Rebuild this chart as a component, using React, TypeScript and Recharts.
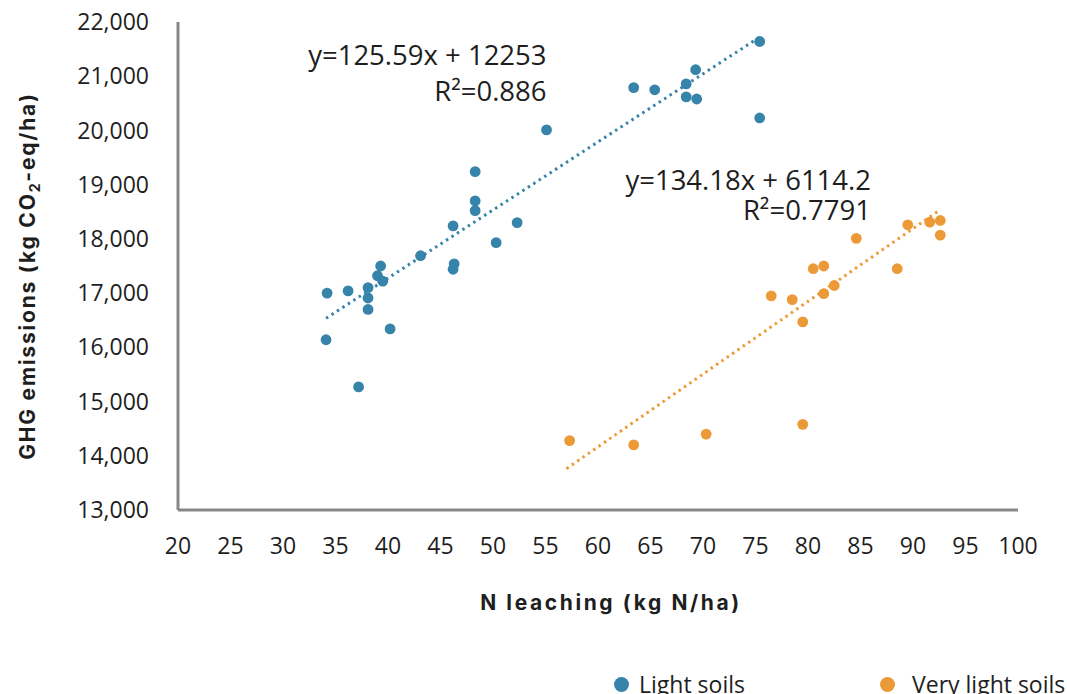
import React from "react";
import {
  ScatterChart,
  Scatter,
  XAxis,
  YAxis,
  ReferenceDot,
  Label,
} from "recharts";

// ---------- data ----------
const lightX = [75.4, 69.3, 63.4, 65.4, 68.4, 68.4, 69.4, 75.4, 55.1, 48.3, 48.3, 48.3, 46.2, 52.3, 50.3, 43.1, 39.3, 39.0, 39.5, 46.3, 46.2, 34.2, 36.2, 38.1, 38.1, 38.1, 40.2, 34.1, 37.2];
const lightY = [21640, 21120, 20790, 20750, 20860, 20620, 20580, 20230, 20010, 19240, 18700, 18520, 18240, 18300, 17930, 17690, 17500, 17320, 17220, 17540, 17440, 17000, 17040, 17100, 16910, 16700, 16340, 16140, 15270];

const veryLightX = [57.3, 63.4, 70.3, 79.5, 76.5, 78.5, 79.5, 80.5, 81.5, 81.5, 82.5, 84.6, 88.5, 89.5, 91.6, 92.6, 92.6];
const veryLightY = [14280, 14200, 14400, 14580, 16950, 16880, 16470, 17450, 17500, 16990, 17140, 18010, 17450, 18260, 18310, 18340, 18070];

// trendline end points
const lightTrendX = [34.1, 75.4];
const lightTrendY = [16536, 21722];
const veryLightTrendX = [57.0, 92.6];
const veryLightTrendY = [13762, 18539];

const seriesNames = ["Light soils", "Very light soils"];
const lightEquation = ["y=125.59x + 12253", "R\u00B2=0.886"];
const veryLightEquation = ["y=134.18x + 6114.2", "R\u00B2=0.7791"];
const lightEqAnchor = { x: 55.1, y: 21210 };
const veryLightEqAnchor = { x: 86.0, y: 18900 };

const xTicks = [20, 25, 30, 35, 40, 45, 50, 55, 60, 65, 70, 75, 80, 85, 90, 95, 100];
const yTicks = [13000, 14000, 15000, 16000, 17000, 18000, 19000, 20000, 21000, 22000];

const xTitle = "N leaching (kg N/ha)";
const yTitleParts = ["GHG emissions (kg CO", "2", "-eq/ha)"];

// ---------- styles ----------
const BLUE = "#3784aa";
const ORANGE = "#ec9a38";
const AXIS = "#878787";
const TEXT = "#1e1e1e";
const FONT = "'Open Sans', sans-serif";
const TITLE_FONT = "Inter, 'Open Sans', sans-serif";

const zip = (xs: number[], ys: number[]) => xs.map((x, i) => ({ x, y: ys[i] }));
const lightData = zip(lightX, lightY);
const veryLightData = zip(veryLightX, veryLightY);
const lightTrend = zip(lightTrendX, lightTrendY);
const veryLightTrend = zip(veryLightTrendX, veryLightTrendY);

const fmt = (v: number) => v.toLocaleString("en-US");

const Dot = (color: string) => (props: any) => {
  const { cx, cy } = props;
  if (cx == null || cy == null) return <g />;
  return <circle cx={cx} cy={cy} r={5.4} fill={color} />;
};

const NoShape = () => <g />;

const EqLabel = (lines: string[], dy: number) => (props: any) => {
  const vb = props.viewBox || {};
  const x = vb.x + (vb.width || 0) / 2;
  const y = vb.y + (vb.height || 0) / 2;
  return (
    <text x={x} y={y} textAnchor="end" fontFamily={FONT} fontSize={27.5} fill={TEXT}>
      <tspan x={x} y={y}>{lines[0]}</tspan>
      <tspan x={x} y={y + dy}>{lines[1]}</tspan>
    </text>
  );
};

const XTitle = (props: any) => {
  const vb = props.viewBox || {};
  return (
    <text
      x={vb.x + vb.width / 2 + 13}
      y={vb.y + 100}
      textAnchor="middle"
      fontFamily={TITLE_FONT}
      fontWeight={700}
      fontSize={21}
      letterSpacing={2.6}
      fill={TEXT}
    >
      {xTitle}
    </text>
  );
};

const YTitle = (props: any) => {
  const vb = props.viewBox || {};
  const cx = 35;
  const cy = vb.y + vb.height / 2 + 10;
  return (
    <text
      transform={`translate(${cx},${cy}) rotate(-90)`}
      textAnchor="middle"
      fontFamily={TITLE_FONT}
      fontWeight={700}
      fontSize={21}
      letterSpacing={1.8}
      fill={TEXT}
    >
      {yTitleParts[0]}
      <tspan fontSize={14} dy={5}>{yTitleParts[1]}</tspan>
      <tspan dy={-5}>{yTitleParts[2]}</tspan>
    </text>
  );
};

const tickStyle = { fontFamily: FONT, fontSize: 23, fill: TEXT };

export default function App() {
  return (
    <div style={{ position: "absolute", left: 0, top: 0, width: 1067, height: 694, background: "#fff" }}>
      <ScatterChart width={1067} height={694} margin={{ top: 22, right: 49, bottom: 124, left: 0 }}>
        <XAxis
          type="number"
          dataKey="x"
          domain={[20, 100]}
          ticks={xTicks}
          interval={0}
          allowDataOverflow
          tickLine={false}
          tickSize={0}
          tickMargin={28}
          height={60}
          axisLine={{ stroke: AXIS, strokeWidth: 3 }}
          tick={tickStyle}
        >
          <Label content={<XTitle />} />
        </XAxis>
        <YAxis
          type="number"
          dataKey="y"
          domain={[13000, 22000]}
          ticks={yTicks}
          interval={0}
          allowDataOverflow
          tickFormatter={fmt}
          tickLine={false}
          tickSize={0}
          tickMargin={29}
          width={178}
          axisLine={{ stroke: AXIS, strokeWidth: 3 }}
          tick={tickStyle}
        >
          <Label content={<YTitle />} />
        </YAxis>

        <Scatter
          name="light-trend"
          data={lightTrend}
          line={{ stroke: BLUE, strokeWidth: 3, strokeDasharray: "2.5 4" }}
          shape={NoShape}
          legendType="none"
          isAnimationActive={false}
        />
        <Scatter
          name="very-light-trend"
          data={veryLightTrend}
          line={{ stroke: ORANGE, strokeWidth: 3, strokeDasharray: "2.5 4" }}
          shape={NoShape}
          legendType="none"
          isAnimationActive={false}
        />
        <Scatter name={seriesNames[0]} data={lightData} fill={BLUE} shape={Dot(BLUE)} isAnimationActive={false} />
        <Scatter name={seriesNames[1]} data={veryLightData} fill={ORANGE} shape={Dot(ORANGE)} isAnimationActive={false} />

        <ReferenceDot
          x={lightEqAnchor.x}
          y={lightEqAnchor.y}
          r={0}
          fill="none"
          stroke="none"
          label={EqLabel(lightEquation, 36)}
        />
        <ReferenceDot
          x={veryLightEqAnchor.x}
          y={veryLightEqAnchor.y}
          r={0}
          fill="none"
          stroke="none"
          label={EqLabel(veryLightEquation, 30)}
        />
      </ScatterChart>

      {/* legend */}
      <div style={{ position: "absolute", left: 614, top: 668, display: "flex", alignItems: "center", fontFamily: FONT, fontSize: 23, color: TEXT, whiteSpace: "nowrap" }}>
        <span style={{ display: "inline-block", width: 15, height: 15, borderRadius: "50%", background: BLUE, marginRight: 10 }} />
        <span>{seriesNames[0]}</span>
      </div>
      <div style={{ position: "absolute", left: 880, top: 668, display: "flex", alignItems: "center", fontFamily: FONT, fontSize: 23, color: TEXT, whiteSpace: "nowrap" }}>
        <span style={{ display: "inline-block", width: 15, height: 15, borderRadius: "50%", background: ORANGE, marginRight: 17 }} />
        <span>{seriesNames[1]}</span>
      </div>
    </div>
  );
}
